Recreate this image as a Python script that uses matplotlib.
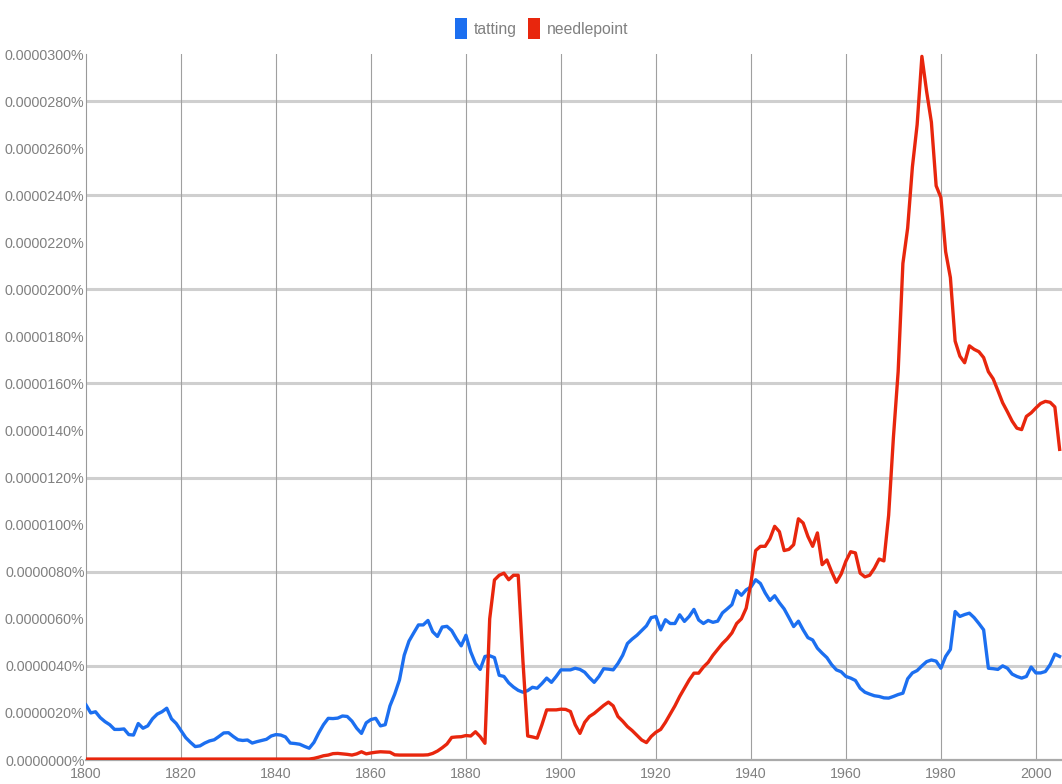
import numpy as np
import matplotlib
matplotlib.use('Agg')
import matplotlib.pyplot as plt
from matplotlib import font_manager
from matplotlib.patches import Patch
from matplotlib.ticker import FuncFormatter

# values are in units of 1e-7 percent (20 -> 0.0000020%)
years = np.arange(1800, 2006)

tatting = [
    23.4, 20.0, 20.5, 18.0, 16.3, 15.0, 13.0, 13.0, 13.2, 10.8,   # 1800
    10.6, 15.5, 13.5, 14.5, 17.5, 19.5, 20.5, 22.0, 17.5, 15.5,   # 1810
    12.5, 9.5, 7.5, 5.7, 6.0, 7.2, 8.1, 8.6, 10.0, 11.5,          # 1820
    11.6, 10.0, 8.6, 8.3, 8.5, 7.2, 7.8, 8.3, 8.8, 10.2,          # 1830
    10.8, 10.6, 9.8, 7.2, 7.0, 6.7, 5.8, 5.0, 7.5, 11.5,          # 1840
    15.0, 17.7, 17.6, 17.8, 18.7, 18.5, 16.5, 13.5, 11.3, 15.8,   # 1850
    17.2, 17.7, 14.5, 15.0, 23.0, 28.0, 34.0, 44.5, 50.5, 54.0,   # 1860
    57.4, 57.4, 59.3, 54.5, 52.5, 56.5, 56.8, 55.0, 51.5, 48.5,   # 1870
    53.0, 46.0, 41.0, 38.5, 44.0, 44.3, 43.5, 36.0, 35.5, 32.8,   # 1880
    31.0, 29.6, 28.8, 29.5, 30.9, 30.5, 32.5, 34.8, 33.0, 35.5,   # 1890
    38.3, 38.3, 38.3, 39.0, 38.5, 37.3, 35.0, 33.0, 35.5, 38.8,   # 1900
    38.6, 38.3, 41.0, 44.5, 49.5, 51.4, 53.0, 55.0, 57.0, 60.5,   # 1910
    61.0, 55.3, 59.6, 58.0, 58.0, 61.7, 58.9, 61.0, 64.0, 59.5,   # 1920
    58.0, 59.3, 58.5, 59.0, 62.5, 64.2, 66.0, 72.0, 70.0, 72.3,   # 1930
    73.5, 76.6, 75.0, 71.0, 67.8, 69.8, 66.8, 64.2, 60.5, 56.7,   # 1940
    59.0, 55.3, 52.0, 51.0, 47.5, 45.4, 43.5, 40.5, 38.3, 37.5,   # 1950
    35.5, 34.8, 33.8, 30.5, 28.8, 28.0, 27.3, 27.0, 26.4, 26.3,   # 1960
    27.0, 27.8, 28.4, 34.5, 37.0, 38.0, 40.0, 41.8, 42.5, 42.0,   # 1970
    39.0, 44.0, 47.0, 63.1, 61.0, 61.8, 62.4, 60.5, 58.0, 55.3,   # 1980
    39.0, 38.8, 38.5, 40.0, 39.0, 36.5, 35.5, 34.8, 35.5, 39.5,   # 1990
    37.0, 37.0, 37.6, 40.5, 45.0, 44.0,                           # 2000
]

needlepoint = [
    0.4, 0.4, 0.4, 0.4, 0.4, 0.4, 0.4, 0.4, 0.4, 0.4,             # 1800
    0.4, 0.4, 0.4, 0.4, 0.4, 0.4, 0.4, 0.4, 0.4, 0.4,             # 1810
    0.4, 0.4, 0.4, 0.4, 0.4, 0.4, 0.4, 0.4, 0.4, 0.4,             # 1820
    0.4, 0.4, 0.4, 0.4, 0.4, 0.4, 0.4, 0.4, 0.4, 0.4,             # 1830
    0.4, 0.4, 0.4, 0.4, 0.4, 0.4, 0.4, 0.4, 0.7, 1.2,             # 1840
    1.8, 2.1, 2.7, 2.8, 2.6, 2.4, 2.1, 2.6, 3.5, 2.6,             # 1850
    3.0, 3.3, 3.5, 3.4, 3.3, 2.2, 2.1, 2.1, 2.1, 2.1,             # 1860
    2.1, 2.1, 2.2, 2.8, 3.8, 5.2, 6.8, 9.6, 9.8, 9.9,             # 1870
    10.4, 10.2, 12.0, 9.9, 7.1, 60.0, 76.5, 78.5, 79.4, 76.6,     # 1880
    78.5, 78.5, 42.0, 10.2, 9.8, 9.3, 15.0, 21.3, 21.3, 21.3,     # 1890
    21.6, 21.5, 20.6, 15.0, 11.3, 16.0, 18.5, 19.8, 21.5, 23.2,   # 1900
    24.6, 23.0, 18.5, 16.5, 14.2, 12.5, 10.5, 8.5, 7.4, 10.0,     # 1910
    11.8, 13.0, 16.0, 19.5, 23.0, 27.0, 30.5, 34.0, 36.9, 36.9,   # 1920
    39.5, 41.5, 44.5, 47.0, 49.5, 51.5, 54.0, 58.0, 60.0, 64.5,   # 1930
    75.2, 89.0, 90.8, 90.8, 94.0, 99.3, 97.0, 89.0, 89.5, 91.5,   # 1940
    102.5, 100.7, 95.0, 90.8, 96.5, 83.0, 85.0, 80.0, 75.5, 79.0, # 1950
    84.5, 88.5, 88.0, 79.4, 77.8, 78.5, 81.5, 85.4, 84.6, 104.0,  # 1960
    137.0, 165.0, 211.0, 226.0, 252.0, 270.0, 299.0, 284.0, 271.0, 244.0,  # 1970
    239.0, 216.0, 205.0, 178.0, 171.6, 168.8, 176.0, 174.5, 173.5, 171.0,  # 1980
    165.0, 162.0, 157.0, 151.8, 148.0, 144.0, 141.0, 140.4, 146.0, 147.5,  # 1990
    149.6, 151.5, 152.4, 152.0, 150.0, 132.0,                     # 2000
]

labels = ['tatting', 'needlepoint']
colors = ['#1c6ff0', '#e8260d']
x_ticks = np.arange(1800, 2001, 20)
y_ticks = np.arange(0, 301, 20)
grid_y = np.arange(40, 300, 40)

# narrow face if there is one, otherwise a smaller Liberation Sans
installed = {f.name for f in font_manager.fontManager.ttflist}
if 'Liberation Sans Narrow' in installed:
    plt.rcParams['font.family'] = ['Liberation Sans Narrow', 'DejaVu Sans']
    fs = 12.5
else:
    plt.rcParams['font.family'] = ['Liberation Sans', 'DejaVu Sans']
    fs = 10.3

fig = plt.figure(figsize=(10.62, 7.84), dpi=100)
ax = fig.add_axes((86 / 1062, 24 / 784, 976 / 1062, 706 / 784))

for y in grid_y:
    ax.axhline(y, color='#cfcfcf', lw=2.2, zorder=1)
for x in x_ticks[1:]:
    ax.axvline(x, color='#a0a0a0', lw=0.8, zorder=1)

ax.plot(years, tatting, color=colors[0], lw=2.4, solid_joinstyle='round', zorder=3)
ax.plot(years, needlepoint, color=colors[1], lw=2.4, solid_joinstyle='round', zorder=3)

ax.set_xlim(1800, 2005.5)
ax.set_ylim(0, 300)
ax.set_xticks(x_ticks)
ax.set_yticks(y_ticks)
ax.yaxis.set_major_formatter(FuncFormatter(lambda v, p: f'{v * 1e-7:.7f}%'))
ax.tick_params(length=0, labelsize=fs, labelcolor='#808080')
ax.tick_params(axis='y', pad=1)
ax.tick_params(axis='x', pad=5)

for s in ['top', 'right']:
    ax.spines[s].set_visible(False)
ax.spines['left'].set_color('#999999')
ax.spines['bottom'].set_color('#aaaaaa')
ax.spines['bottom'].set_linewidth(1.6)

handles = [Patch(facecolor=c, edgecolor='none') for c in colors]
fig.legend(handles, labels, loc='upper center', bbox_to_anchor=(0.51, 0.995),
           ncol=2, frameon=False, fontsize=fs + 1, labelcolor='#808080',
           handlelength=0.75, handleheight=1.7, handletextpad=0.45,
           columnspacing=0.7)

fig.savefig('out.png', dpi=100)
